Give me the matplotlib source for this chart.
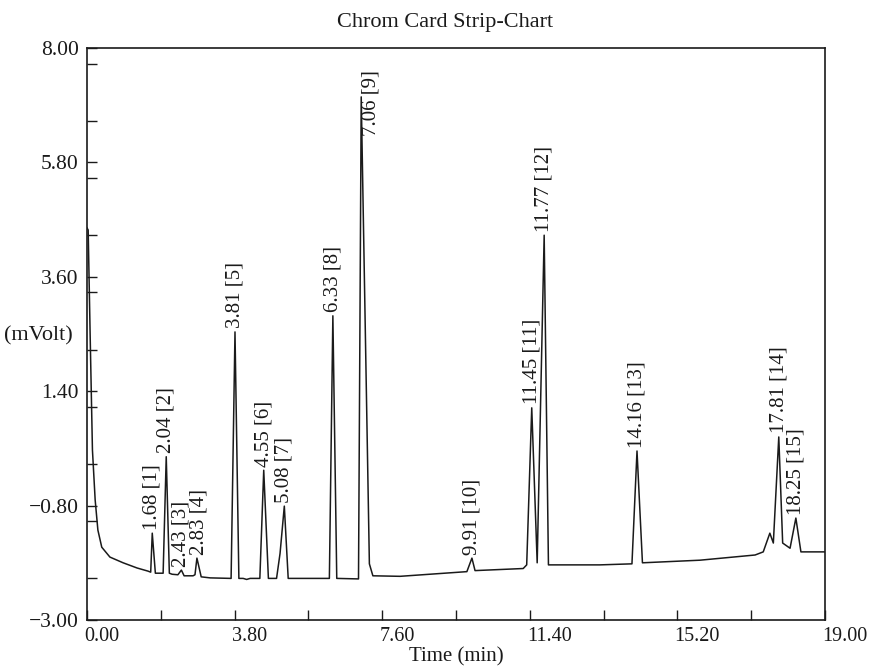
import matplotlib
matplotlib.use("Agg")
import matplotlib.pyplot as plt
import matplotlib.transforms as mtransforms
from matplotlib.ticker import MultipleLocator, FuncFormatter

plt.rcParams['font.family'] = ['Liberation Serif', 'DejaVu Serif']

trace_time = [0.00, 0.03, 0.08, 0.14, 0.21, 0.28, 0.38, 0.59, 0.93, 1.29, 1.57, 1.64,
              1.68, 1.76, 1.96, 2.04, 2.12, 2.19, 2.34, 2.43, 2.50, 2.73, 2.78, 2.83,
              2.94, 3.17, 3.71, 3.81, 3.91, 4.02, 4.11, 4.20, 4.45, 4.55, 4.67, 4.88,
              4.97, 5.08, 5.18, 6.24, 6.33, 6.43, 6.99, 7.06, 7.27, 7.36, 8.06, 9.78,
              9.91, 9.99, 11.23, 11.32, 11.45, 11.59, 11.77, 11.88, 13.20, 14.03, 14.16,
              14.30, 15.78, 17.20, 17.41, 17.58, 17.67, 17.81, 17.91, 18.10, 18.25,
              18.38, 19.00]
trace_mv = [4.54, 4.50, 2.52, 0.27, -0.69, -1.27, -1.60, -1.79, -1.90, -2.00, -2.06, -2.08,
            -1.33, -2.10, -2.10, 0.14, -2.10, -2.12, -2.13, -2.04, -2.15, -2.15, -2.13, -1.81,
            -2.17, -2.19, -2.20, 2.54, -2.20, -2.20, -2.22, -2.20, -2.20, -0.12, -2.20, -2.20,
            -1.72, -0.81, -2.20, -2.20, 2.85, -2.20, -2.21, 7.06, -1.92, -2.15, -2.16, -2.07,
            -1.81, -2.05, -2.01, -1.94, 1.08, -1.90, 4.40, -1.94, -1.94, -1.92, 0.25,
            -1.90, -1.85, -1.75, -1.69, -1.33, -1.52, 0.52, -1.52, -1.62, -1.04,
            -1.69, -1.69]

# Peak labels
peak_times = [1.68, 2.04, 2.43, 2.83, 3.81, 4.55, 5.08, 6.33, 7.06, 9.91, 11.45, 11.77, 14.16, 17.81, 18.25]
peak_heights = [-1.33, 0.14, -2.04, -1.81, 2.54, -0.12, -0.81, 2.85, 7.06, -1.81, 1.08, 4.40, 0.25, 0.52, -1.04]
peak_ids = list(range(1, 16))

x_ticks = [0.00, 3.80, 7.60, 11.40, 15.20, 19.00]
y_ticks = [-3.00, -0.80, 1.40, 3.60, 5.80, 8.00]

W, H = 869, 670
fig = plt.figure(figsize=(W / 100, H / 100), dpi=100)
ax = fig.add_axes([87 / W, 1 - 620 / H, 738 / W, 572 / H])

ink = '#1a1a1a'
ax.plot(trace_time, trace_mv, color=ink, lw=1.1, solid_joinstyle='round')

ax.set_xlim(0, 19)
ax.set_ylim(-3, 8)
ax.set_xticks(x_ticks)
ax.set_yticks(y_ticks)
ax.xaxis.set_minor_locator(MultipleLocator(1.9))
ax.yaxis.set_minor_locator(MultipleLocator(1.1))
fmt = FuncFormatter(lambda v, p: f"{v:.2f}".replace('-', '\u2212'))
ax.xaxis.set_major_formatter(fmt)
ax.yaxis.set_major_formatter(fmt)
ax.tick_params(which='both', direction='in', length=7, width=1.0, color=ink,
               labelcolor=ink)
ax.tick_params(axis='x', pad=5, labelsize=14.5)
ax.tick_params(axis='y', pad=6, labelsize=15.5)
offset = mtransforms.ScaledTranslation(-3 / 100, 0, fig.dpi_scale_trans)
for lab in ax.get_xticklabels():
    lab.set_horizontalalignment('left')
    lab.set_transform(lab.get_transform() + offset)

for s in ax.spines.values():
    s.set_linewidth(1.2)
    s.set_color(ink)

for t, h, i in zip(peak_times, peak_heights, peak_ids):
    txt = f"{t:.2f} [{i}]"
    if i == 9:
        dx, dy = 7, -28
    elif i == 4:
        dx, dy = 1.5, 2
    else:
        dx, dy = 0, 2.5
    ax.annotate(txt, xy=(t, h), xytext=(dx, dy), textcoords='offset points',
                rotation=90, ha='center', va='bottom', fontsize=15, color=ink)

fig.text(445 / W, 1 - 22 / H, "Chrom Card Strip-Chart", ha='center', va='center',
         fontsize=16, color=ink)
fig.text(456 / W, 1 - 657 / H, "Time (min)", ha='center', va='center',
         fontsize=15, color=ink)
fig.text(38 / W, 1 - 336 / H, "(mVolt)", ha='center', va='center',
         fontsize=16, color=ink)

fig.savefig("out.png", dpi=100)
